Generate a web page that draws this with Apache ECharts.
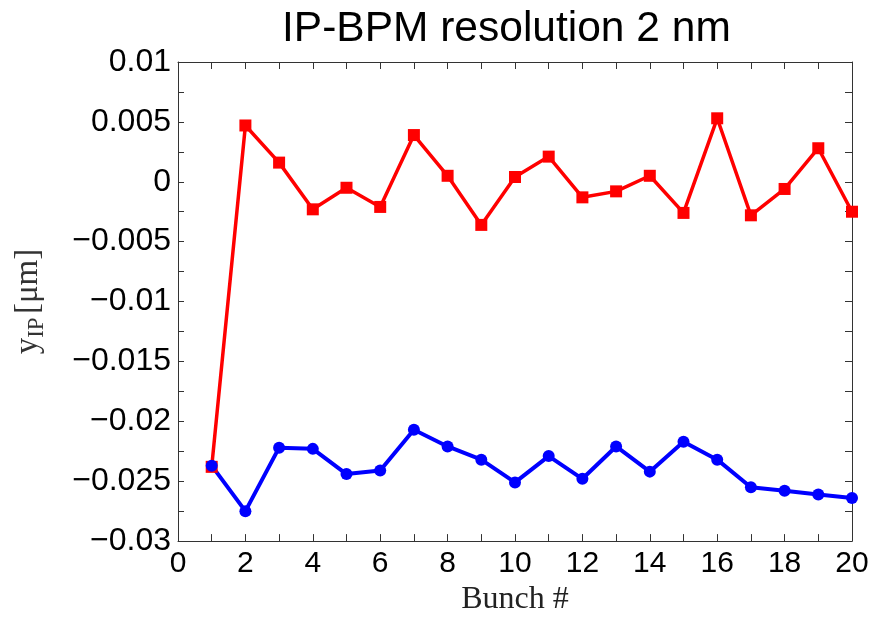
<!DOCTYPE html>
<html>
<head>
<meta charset="utf-8">
<script src="https://cdn.jsdelivr.net/npm/echarts@6/dist/echarts.min.js"></script>
<style>html,body{margin:0;padding:0;background:#fff}#c{width:881px;height:621px}</style>
</head>
<body>
<div id="c"></div>
<script>
var bunches = [1,2,3,4,5,6,7,8,9,10,11,12,13,14,15,16,17,18,19,20];
var redValues = [-0.0238,0.0047,0.0016,-0.0023,-0.0005,-0.0021,0.0039,0.0005,-0.0036,0.0004,0.0021,-0.0013,-0.0008,0.0005,-0.0026,0.0053,-0.0028,-0.0006,0.0028,-0.0025];
var blueValues = [-0.0237,-0.0275,-0.0222,-0.0223,-0.0244,-0.0241,-0.0207,-0.0221,-0.0232,-0.0251,-0.0229,-0.0248,-0.0221,-0.0242,-0.0217,-0.0232,-0.0255,-0.0258,-0.0261,-0.0264];
var yLabelValues = [0.01,0.005,0,-0.005,-0.01,-0.015,-0.02,-0.025,-0.03];
var xLabelValues = [0,2,4,6,8,10,12,14,16,18,20];
var titleText = 'IP-BPM resolution 2 nm';
var xName = 'Bunch #';

function pairs(xs, ys){ return xs.map(function(x,i){ return [x, ys[i]]; }); }
function fmtY(v){
  for (var i=0;i<yLabelValues.length;i++){
    if (Math.abs(v - yLabelValues[i]) < 1e-9){
      var s = String(Math.abs(yLabelValues[i]));
      return yLabelValues[i] < 0 ? '\u2212' + s : s;
    }
  }
  return '';
}
function fmtX(v){
  return xLabelValues.indexOf(Math.round(v)) >= 0 && Math.abs(v-Math.round(v))<1e-9 ? String(Math.round(v)) : '';
}

var chart = echarts.init(document.getElementById('c'), null, {renderer:'canvas'});
var axisLineStyle = {color:'#333', width:1};
var tickStyle = {color:'#333', width:1};
chart.setOption({
  animation:false,
  backgroundColor:'#fff',
  title:{
    text:titleText, left:277, top:3,
    textStyle:{fontFamily:'Liberation Sans, Arial, sans-serif', fontSize:42.5, fontWeight:'normal', color:'#000'}
  },
  grid:{left:178, right:29, top:62, bottom:74, containLabel:false},
  xAxis:[{
    type:'value', min:0, max:20, interval:1, position:'bottom',
    axisLine:{show:true, onZero:false, lineStyle:axisLineStyle},
    axisTick:{show:true, inside:true, length:7, lineStyle:tickStyle},
    axisLabel:{formatter:fmtX, fontFamily:'Liberation Sans, Arial, sans-serif', fontSize:30, color:'#000', margin:8, showMinLabel:true, showMaxLabel:true},
    splitLine:{show:false},
    name:xName, nameLocation:'middle', nameGap:42,
    nameTextStyle:{fontFamily:'Liberation Serif, Times New Roman, serif', fontSize:32, color:'#222'}
  },{
    type:'value', min:0, max:20, interval:1, position:'top',
    axisLine:{show:true, onZero:false, lineStyle:axisLineStyle},
    axisTick:{show:true, inside:true, length:7, lineStyle:tickStyle},
    axisLabel:{show:false}, splitLine:{show:false}
  }],
  yAxis:[{
    type:'value', min:-0.03, max:0.01, interval:0.0025, position:'left',
    axisLine:{show:true, onZero:false, lineStyle:axisLineStyle},
    axisTick:{show:true, inside:true, length:6, lineStyle:tickStyle},
    axisLabel:{formatter:fmtY, fontFamily:'Liberation Sans, Arial, sans-serif', fontSize:32, color:'#000', margin:7, showMinLabel:true, showMaxLabel:true},
    splitLine:{show:false},
    name:'{a|y}{b|IP} {a|[\u03bcm]}', nameLocation:'middle', nameGap:130, nameRotate:90,
    nameTextStyle:{
      color:'#333',
      rich:{
        a:{fontFamily:'Liberation Serif, Times New Roman, serif', fontSize:33, color:'#333', lineHeight:40, verticalAlign:'middle'},
        b:{fontFamily:'Liberation Serif, Times New Roman, serif', fontSize:23, color:'#333', lineHeight:40, verticalAlign:'bottom', padding:[12,0,0,0]}
      }
    }
  },{
    type:'value', min:-0.03, max:0.01, interval:0.0025, position:'right',
    axisLine:{show:true, onZero:false, lineStyle:axisLineStyle},
    axisTick:{show:true, inside:true, length:7, lineStyle:tickStyle},
    axisLabel:{show:false}, splitLine:{show:false}
  }],
  series:[{
    type:'line', name:'red', xAxisIndex:0, yAxisIndex:0,
    data:pairs(bunches, redValues),
    symbol:'rect', symbolSize:12,
    lineStyle:{color:'#ff0000', width:3.5},
    itemStyle:{color:'#ff0000'}
  },{
    type:'line', name:'blue', xAxisIndex:0, yAxisIndex:0,
    data:pairs(bunches, blueValues),
    symbol:'circle', symbolSize:12,
    lineStyle:{color:'#0000ff', width:4},
    itemStyle:{color:'#0000ff'}
  }]
});
</script>
</body>
</html>
